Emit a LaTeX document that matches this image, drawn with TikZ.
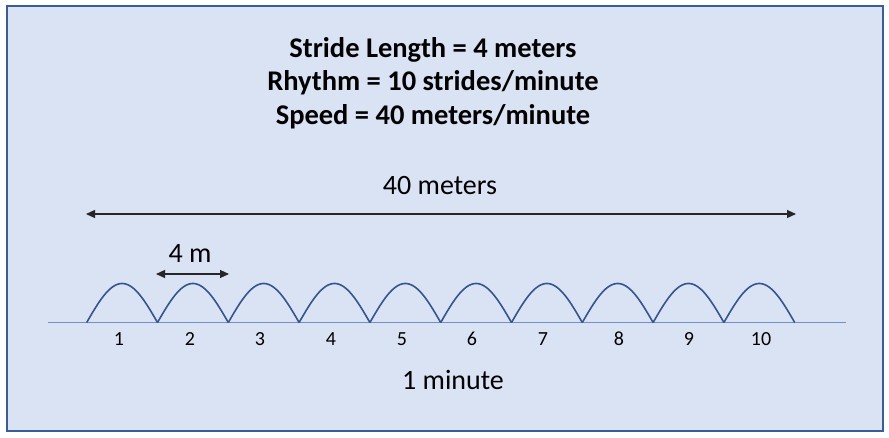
\documentclass[tikz,border=0pt]{standalone}
\usepackage{fontspec}
\setmainfont{Carlito}
\usetikzlibrary{arrows.meta}
\definecolor{bgfill}{HTML}{DAE3F3}
\definecolor{frameblue}{HTML}{3A5C99}
\definecolor{archblue}{HTML}{34558F}
\definecolor{baseblue}{HTML}{6F90CC}
\tikzset{
  title/.style={font=\bfseries\fontsize{28.5}{32}\selectfont, inner sep=0pt, anchor=center},
  label/.style={font=\fontsize{28}{32}\selectfont, inner sep=0pt, anchor=center},
  num/.style={font=\fontsize{20}{24}\selectfont, inner sep=0pt, anchor=center},
  dim/.style={draw=black!85, line width=1.1pt, {Triangle[length=9pt,width=8pt]}-{Triangle[length=9pt,width=8pt]}},
  arch/.style={draw=archblue, line width=1.6pt},
}
\begin{document}
\begin{tikzpicture}[x=1pt,y=-1pt]
\useasboundingbox (0,0) rectangle (889,437);
\draw[fill=bgfill, draw=frameblue, line width=2pt] (7,6) rectangle (883,431);
\node[title] (t1) at (433,50) {Stride Length = 4 meters};
\node[title] (t2) at (433,83) {Rhythm = 10 strides/minute};
\node[title] (t3) at (433,117) {Speed = 40 meters/minute};
\node[label] (l40) at (440,186) {40 meters};
\coordinate (a40) at (86,214);
\coordinate (b40) at (796,214);
\draw[dim] (a40) -- (b40);
\node[label] (l4) at (190,254) {4 m};
\coordinate (a4) at (156,274);
\coordinate (b4) at (229,274);
\draw[dim] (a4) -- (b4);
\coordinate (bl) at (48,322.5);
\coordinate (br) at (846,322.5);
\draw[draw=baseblue, line width=1.2pt] (bl) -- (br);
\foreach \i in {0,...,9}{
  \draw[arch] plot[domain=0:180, samples=40, variable=\t] ({86.7+70.8*\i+70.8*\t/180},{322.5-39*sin(\t)});
}
\foreach \n/\x in {1/119,2/190,3/260,4/331,5/402,6/472,7/543,8/619,9/689,10/761}{
  \node[num] (n\n) at (\x,339) {\n};
}
\node[label] (lmin) at (453,380) {1 minute};
\end{tikzpicture}
\end{document}
